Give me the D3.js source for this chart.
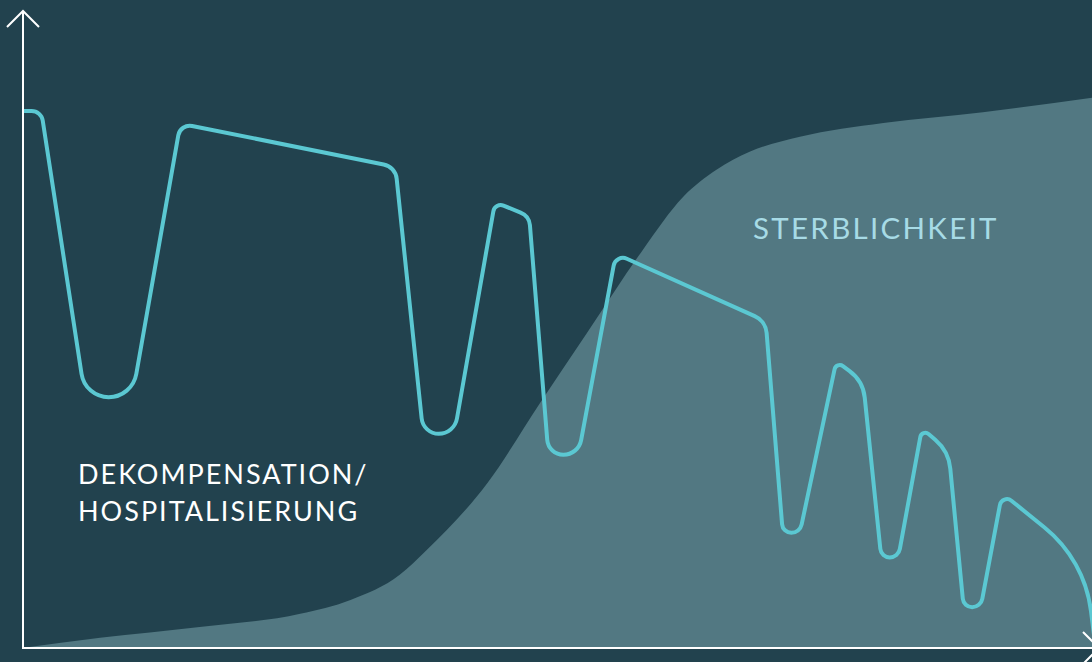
<html>
<head>
	<title>Dekompensation / Sterblichkeit</title>
	<script src="https://d3js.org/d3.v7.min.js"></script>
	<style type="text/css">
		body {
			margin: 0;
			padding: 0;
			background: #22424e;
			overflow: hidden;
		}
		#chart {
			margin: 0;
			padding: 0;
		}
	</style>
</head>
<body>

<div id="chart"></div>

<script>

// time axis runs 0..100, value axis 0..100 (no ticks shown)
var episodeX = [0, 1.8, 5.9, 10.3, 14.8, 34.9, 37.5, 40.4, 44.2, 47.4, 49.2, 52.0, 55.5, 69.5,
	71.1, 72.7, 76.1, 78.6, 80.3, 81.9, 84.1, 86.6, 88.0, 89.6, 91.6, 99.3, 100.5];
var episodeY = [89.5, 89.5, 41.8, 41.8, 87.4, 80.2, 35.7, 35.7, 74.3, 72.0, 32.2, 32.2, 65.7, 54.5,
	19.2, 19.2, 47.8, 44.5, 15.1, 15.1, 36.6, 32.8, 6.8, 6.8, 25.8, 14.7, -2.3];

var mortalityX = [0, 7.3, 16.6, 26.0, 30.7, 35.3, 37.8, 43.5, 48.4, 52.8, 58.0, 61.8, 64.9, 68.0,
	72.7, 80.5, 89.8, 100];
var mortalityY = [0, 1.7, 3.5, 5.7, 8.0, 12.2, 16.3, 27.5, 40.8, 52.5, 66.3, 75.2, 79.7, 82.7,
	85.2, 87.5, 89.3, 91.7];

var leftLabel = ["DEKOMPENSATION/", "HOSPITALISIERUNG"];
var rightLabel = "STERBLICHKEIT";

var ww = 1092,
	wh = 662;

var x = d3.scaleLinear().domain([0, 100]).range([22, 1092]);
var y = d3.scaleLinear().domain([0, 100]).range([648, 48]);

// polyline with rounded corners: valleys get fully rounded, gentle bends smoothed
function roundedCorners(context) {
	var pts;
	var T = 12; // tangent length for ordinary corners
	return {
		areaStart: function() {},
		areaEnd: function() {},
		lineStart: function() { pts = []; },
		point: function(px, py) { pts.push([+px, +py]); },
		lineEnd: function() {
			var n = pts.length;
			if (!n) return;
			context.moveTo(pts[0][0], pts[0][1]);
			for (var i = 1; i < n - 1; i++) {
				var p = pts[i - 1], c = pts[i], q = pts[i + 1];
				var ax = p[0] - c[0], ay = p[1] - c[1];
				var bx = q[0] - c[0], by = q[1] - c[1];
				var la = Math.hypot(ax, ay), lb = Math.hypot(bx, by);
				var theta = Math.acos((ax * bx + ay * by) / (la * lb));
				var half = Math.tan(theta / 2);
				var valley = p[1] <= c[1] && q[1] <= c[1];
				var t;
				if (valley || theta > 130 * Math.PI / 180) {
					t = Math.min(la, lb) / 2;
				} else {
					// the first segment has no other corner sharing it
					t = Math.min(T, i == 1 ? la / 2 : la / 4, lb / 4);
				}
				context.arcTo(c[0], c[1], q[0], q[1], t * half);
			}
			context.lineTo(pts[n - 1][0], pts[n - 1][1]);
		}
	};
}

var svg = d3.select("#chart").append("svg")
	.attr("width", ww)
	.attr("height", wh);

svg.append("rect")
	.attr("width", ww)
	.attr("height", wh)
	.attr("fill", "#22424e");

var area = d3.area()
	.x(function(d, i) { return x(mortalityX[i]); })
	.y0(y(0))
	.y1(function(d) { return y(d); })
	.curve(d3.curveMonotoneX);

svg.append("path")
	.datum(mortalityY)
	.attr("d", area)
	.attr("fill", "#527882");

var line = d3.line()
	.x(function(d, i) { return x(episodeX[i]); })
	.y(function(d) { return y(d); })
	.curve(roundedCorners);

svg.append("path")
	.datum(episodeY)
	.attr("d", line)
	.attr("fill", "none")
	.attr("stroke", "#5bc8d2")
	.attr("stroke-width", 4);

// axes with open arrowheads
var x0 = x(0), y0 = y(0);
svg.append("path")
	.attr("d", "M" + (x0 + 1) + "," + y0 + "V" + 11 + "M" + (x0 - 15) + "," + 27 + "L" + (x0 + 1) + "," + 11 + "L" + (x0 + 17) + "," + 27)
	.attr("fill", "none")
	.attr("stroke", "#fff")
	.attr("stroke-width", 2);

svg.append("path")
	.attr("d", "M" + x0 + "," + y0 + "H" + 1099 + "M" + 1083 + "," + (y0 - 16) + "L" + 1099 + "," + y0 + "L" + 1083 + "," + (y0 + 16))
	.attr("fill", "none")
	.attr("stroke", "#fff")
	.attr("stroke-width", 2);

svg.append("g").selectAll("text")
	.data(leftLabel)
	.enter().append("text")
	.attr("x", 78)
	.attr("y", function(d, i) { return 484 + i * 37; })
	.attr("fill", "#ffffff")
	.style("font-family", "Lato")
	.style("font-size", "27px")
	.style("letter-spacing", "2px")
	.text(function(d) { return d; });

svg.append("text")
	.attr("x", 753)
	.attr("y", 239)
	.attr("fill", "#a7dbe6")
	.style("font-family", "Lato")
	.style("font-size", "29.5px")
	.style("letter-spacing", "2.3px")
	.text(rightLabel);

</script>
</body>
</html>
